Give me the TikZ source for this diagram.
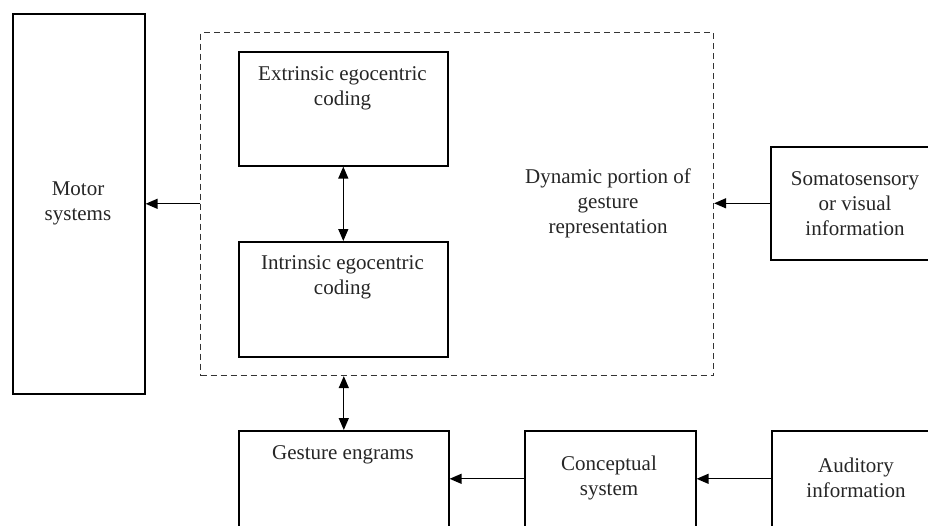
\documentclass[tikz,border=0pt]{standalone}
\usepackage{fontspec}
\setmainfont{Liberation Serif}
\usetikzlibrary{arrows.meta}
\begin{document}
\begin{tikzpicture}[x=1pt,y=-1pt,
  box/.style={draw=black, line width=1.6pt, rectangle, inner sep=0pt, anchor=north west},
  lbl/.style={font=\fontsize{21}{25}\selectfont, align=center, text=black!85, inner sep=0pt},
  arr/.style={line width=1.3pt, -{Triangle[length=12pt,width=10pt]}},
  darr/.style={line width=1.3pt, {Triangle[length=12pt,width=10pt]}-{Triangle[length=12pt,width=10pt]}},
  dashbox/.style={draw=black!80, line width=1.1pt, dash pattern=on 6pt off 4pt, rectangle, inner sep=0pt, anchor=north west}]
\useasboundingbox (0,0) rectangle (928,525);
\clip (0,0) rectangle (928,525);
\fill[white] (0,0) rectangle (928,525);

% boxes
\node[box, minimum width=132pt, minimum height=380pt] (motor) at (12,13) {};
\node[lbl] (motorT) at (78,203) {Motor\\systems};

\node[dashbox, minimum width=513pt, minimum height=343pt] (dyn) at (200,32) {};
\node[lbl] (dynT) at (608,203) {Dynamic portion of\\gesture\\representation};

\node[box, minimum width=209pt, minimum height=114pt] (ext) at (238,51) {};
\node[lbl, anchor=north] (extT) at (342.5,66) {Extrinsic egocentric\\coding};

\node[box, minimum width=209pt, minimum height=115pt] (int) at (238,241) {};
\node[lbl, anchor=north] (intT) at (342.5,255) {Intrinsic egocentric\\coding};

\node[box, minimum width=170pt, minimum height=113pt] (soma) at (770,146) {};
\node[lbl] (somaT) at (855,204) {Somatosensory\\or visual\\information};

\node[box, minimum width=210pt, minimum height=98pt] (gest) at (238,430) {};
\node[lbl, anchor=north] (gestT) at (343,445) {Gesture engrams};

\node[box, minimum width=171pt, minimum height=96pt] (conc) at (524,430) {};
\node[lbl] (concT) at (609,478) {Conceptual\\system};

\node[box, minimum width=170pt, minimum height=96pt] (aud) at (771,430) {};
\node[lbl] (audT) at (856,478) {Auditory\\information};

% connectors
\draw[arr] (dyn.west |- motor.center) -- (motor.east);
\draw[arr] (soma.west) -- (dyn.east |- soma.west);
\draw[darr] (ext.south) -- (int.north);
\draw[darr] (dyn.south -| gest.north) -- (gest.north);
\draw[arr] (conc.west) -- (gest.east |- conc.west);
\draw[arr] (aud.west) -- (conc.east |- aud.west);
\end{tikzpicture}
\end{document}
